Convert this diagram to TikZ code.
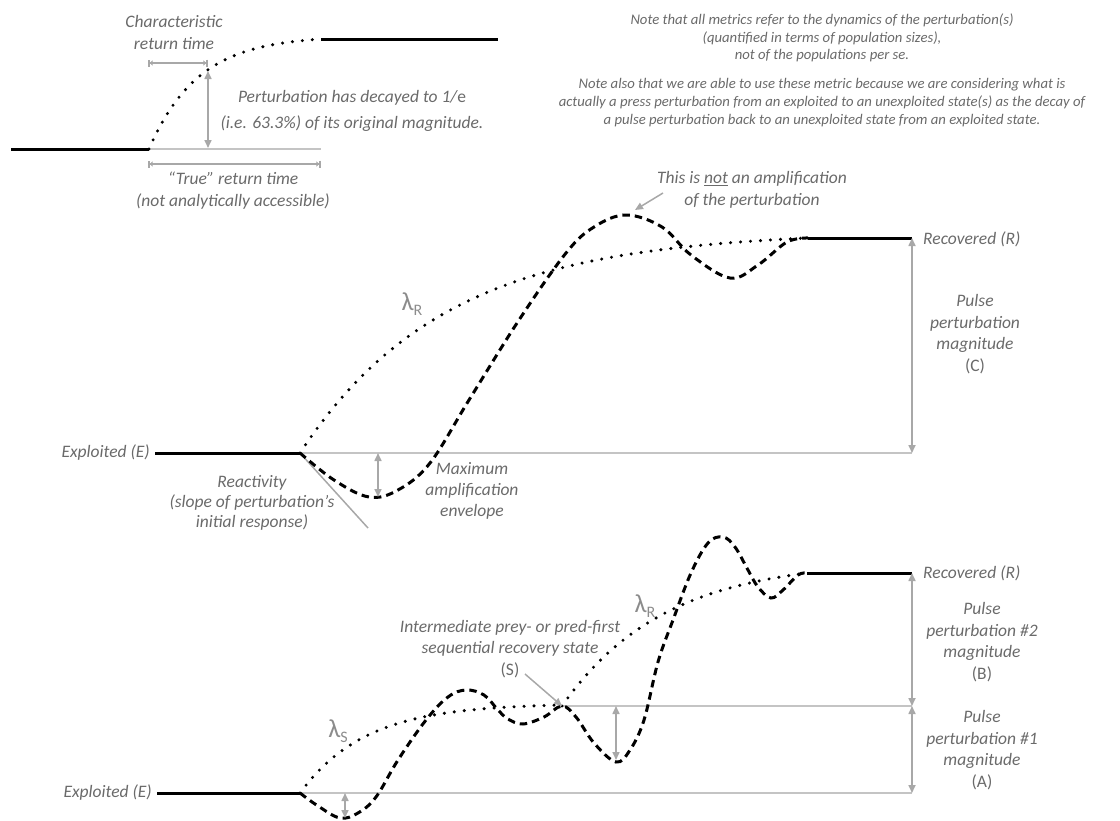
\documentclass[tikz,border=0pt]{standalone}
\usepackage{fontspec}
\setmainfont{Carlito}
\usepackage{xcolor}
\usetikzlibrary{arrows.meta,positioning,calc}
\definecolor{txtgray}{HTML}{6A6A6A}
\definecolor{lamgray}{HTML}{8C8C8C}
\definecolor{arrgray}{HTML}{A8A8A8}
\definecolor{linegray}{HTML}{C4C4C4}

\begin{document}
\begin{tikzpicture}[
  x=1pt, y=-1pt,
  lab/.style={font=\fontsize{17.5}{21.5}\selectfont\itshape, text=txtgray, align=center, inner sep=0pt},
  note/.style={font=\fontsize{14.7}{17.8}\selectfont\itshape, text=txtgray, align=center, inner sep=0pt},
  lam/.style={font=\fontsize{26}{28}\selectfont, text=lamgray, inner sep=0pt},
  state/.style={line width=3pt, black},
  base/.style={line width=1.2pt, linegray},
  dotcurve/.style={line width=3.4pt, line cap=round, dash pattern=on 0pt off 10pt},
  dashcurve/.style={line width=3pt, dash pattern=on 7.5pt off 5pt},
  dim/.style={line width=1.6pt, arrgray, {Triangle[length=8pt,width=7pt]}-{Triangle[length=8pt,width=7pt]}},
  span/.style={line width=1.6pt, arrgray, {Bar[width=7pt]Triangle[length=3pt,width=5pt]}-{Triangle[length=3pt,width=5pt]Bar[width=7pt]}},
  ptr/.style={line width=1.5pt, arrgray, -{Triangle[length=8pt,width=7pt]}},
]
\useasboundingbox (0,0) rectangle (1120,820);

% top: return times
\coordinate (tleft) at (11,149);
\coordinate (t0) at (149,149);
\coordinate (tend) at (321,39);
\coordinate (tright) at (498,39);
\coordinate (tbase) at (321,149);
\coordinate (tmark) at (208,71);
\coordinate (tmarkb) at (208,148);
\coordinate (c1) at (148,63);
\coordinate (c2) at (208,63);
\coordinate (r1) at (148,164);
\coordinate (r2) at (321,164);
\draw[base] (t0) -- (tbase);
\draw[state] (tleft) -- (t0);
\draw[state] (tend) -- (tright);
\draw[dotcurve] plot[domain=0:1, samples=60] ({149+172*\x},{149-110*(1-exp(-3.5*\x))/0.9698});
\draw[span] (c1) -- (c2);
\draw[span] (r1) -- (r2);
\draw[dim] (tmark) -- (tmarkb);
\node[lab, font=\fontsize{17.5}{22}\selectfont\itshape] (chart) at (174,32) {Characteristic\\return time};
\node[lab, font=\fontsize{17.5}{26}\selectfont\itshape] (decay) at (352,111) {Perturbation has decayed to 1/{\upshape e}\\(i.e. 63.3\%) of its original magnitude.};
\node[lab, font=\fontsize{17.5}{22}\selectfont\itshape] (truetime) at (233,191) {“True” return time\\(not analytically accessible)};

% notes
\node[note, font=\fontsize{14.7}{17.5}\selectfont\itshape] (note1) at (822,38) {Note that all metrics refer to the dynamics of the perturbation(s)\\(quantified in terms of population sizes),\\not of the populations per se.};
\node[note, font=\fontsize{14.7}{18}\selectfont\itshape] (note2) at (822,103) {Note also that we are able to use these metric because we are considering what is\\actually a press perturbation from an exploited to an unexploited state(s) as the decay of\\a pulse perturbation back to an unexploited state from an exploited state.};

% middle: single pulse
\coordinate (mE) at (155,453);
\coordinate (m0) at (300,453);
\coordinate (mR) at (808,238);
\coordinate (mRend) at (912,238);
\coordinate (mbase) at (912,453);
\coordinate (mlow) at (378,497);
\coordinate (mlowtop) at (378,453);
\coordinate (react) at (368,528);
\coordinate (mpeak) at (635,210);
\coordinate (mptr) at (663,193);
\draw[base] (m0) -- (mbase);
\draw[state] (mE) -- (m0);
\draw[state] (mR) -- (mRend);
\draw[line width=1.5pt, arrgray] (m0) -- (react);
\draw[dotcurve] plot[domain=0:1, samples=80] ({300+508*\x},{453-215*(1-exp(-3.5*\x))/0.9698});
\draw[dashcurve] plot[smooth, tension=0.6] coordinates {(300,453) (334,480) (369,497) (398,490) (430,463) (469,400) (519,320) (566,253) (594,227) (626,215) (662,227) (691,255) (730,278) (758,265) (787,242) (808,238)};
\draw[dim] (mlowtop) -- (mlow);
\draw[dim] (mRend) -- (mbase);
\draw[ptr] (mptr) -- (mpeak);
\node[lab, anchor=east] (explm) at (150,453) {Exploited (E)};
\node[lab, anchor=west] (recm) at (923,239) {Recovered (R)};
\node[lab] (pulsec) at (975,334) {Pulse\\perturbation\\magnitude\\{\upshape (C)}};
\node[lab, font=\fontsize{17.5}{20}\selectfont\itshape] (reactiv) at (252,503) {Reactivity\\(slope of perturbation's\\initial response)};
\node[lab, font=\fontsize{17.5}{21}\selectfont\itshape] (maxamp) at (472,491) {Maximum\\amplification\\envelope};
\node[lab, font=\fontsize{17.5}{22}\selectfont\itshape] (notamp) at (752,190) {This is \underline{not} an amplification\\of the perturbation};
\node[lam] (lamr1) at (412,304) {λ\raisebox{-5pt}{\fontsize{16}{16}\selectfont R}};

% bottom: sequential pulses
\coordinate (bE) at (157,793);
\coordinate (b0) at (300,793);
\coordinate (bS) at (562,706);
\coordinate (bR) at (807,573);
\coordinate (bRend) at (912,573);
\coordinate (bmid) at (912,706);
\coordinate (bbase) at (912,793);
\coordinate (blow) at (345,818);
\coordinate (blowtop) at (345,793);
\coordinate (smid) at (616,760);
\coordinate (smidtop) at (616,706);
\coordinate (sptr) at (525,674);
\draw[base] (b0) -- (bbase);
\draw[base] (bS) -- (bmid);
\draw[state] (bE) -- (b0);
\draw[state] (bR) -- (bRend);
\draw[dotcurve] plot[domain=0:1, samples=60] ({300+262*\x},{793-88*(1-exp(-4*\x))/0.9817});
\draw[dotcurve] plot[domain=0:1, samples=60] ({562+245*\x},{706-133*(1-exp(-2.4*\x))/0.9093});
\draw[dashcurve] plot[smooth, tension=0.6] coordinates {(300,793) (318,806) (340,818) (358,813) (376,797) (398,760) (426,720) (448,697) (466,690) (484,695) (498,710) (508,719) (523,724) (544,717) (562,706) (576,717) (594,743) (616,762) (630,750) (644,720) (658,662) (673,620) (691,573) (708,543) (723,537) (735,547) (748,570) (758,587) (771,598) (783,590) (798,575) (807,573)};
\draw[dim] (blowtop) -- (blow);
\draw[dim] (smidtop) -- (smid);
\draw[dim] (bRend) -- (bmid);
\draw[dim] (bmid) -- (bbase);
\draw[ptr] (sptr) -- (bS);
\node[lab, anchor=east] (explb) at (152,793) {Exploited (E)};
\node[lab, anchor=west] (recb) at (923,573) {Recovered (R)};
\node[lab] (pulseb) at (982,642) {Pulse\\perturbation \#2\\magnitude\\{\upshape (B)}};
\node[lab] (pulsea) at (982,750) {Pulse\\perturbation \#1\\magnitude\\{\upshape (A)}};
\node[lab] (interm) at (510,649) {Intermediate prey- or pred-first\\sequential recovery state\\{\upshape (S)}};
\node[lam] (lams) at (338,731) {λ\raisebox{-5pt}{\fontsize{16}{16}\selectfont S}};
\node[lam] (lamr2) at (645,606) {λ\raisebox{-5pt}{\fontsize{16}{16}\selectfont R}};
\end{tikzpicture}
\end{document}
